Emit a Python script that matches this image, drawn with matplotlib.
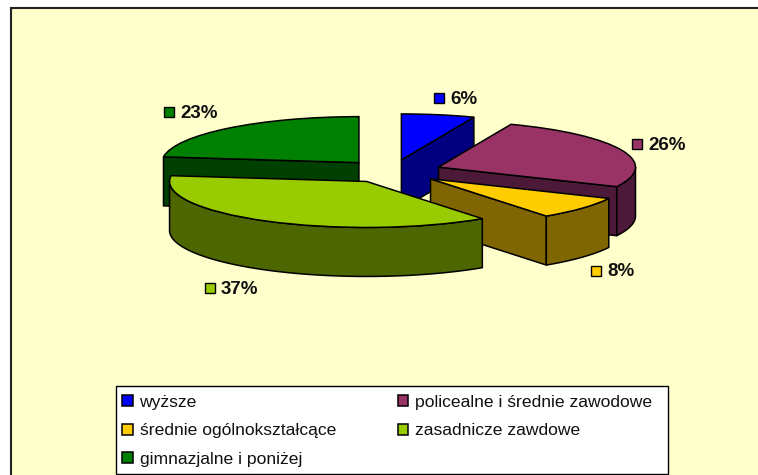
#!/usr/bin/env python
import numpy as np
import matplotlib
matplotlib.use('Agg')
import matplotlib.pyplot as plt
from matplotlib.patches import Polygon, Rectangle

W, H = 758, 475

names = ['wyższe', 'policealne i średnie zawodowe', 'średnie ogólnokształcące',
         'zasadnicze zawdowe', 'gimnazjalne i poniżej']
values = [6, 26, 8, 37, 23]
top_colors = ['#0000FF', '#993366', '#FFCC00', '#99CC00', '#008000']
side_colors = ['#000080', '#4C1A38', '#806600', '#4D6600', '#004000']

# back to front
draw_order = [0, 4, 1, 2, 3]
# pixel position of each label key
key_pos = [(439, 98), (637, 144), (596, 271), (210, 288), (169, 112)]

# pie geometry in pixels, the axes squash the circle
cx, cy = 392.0, 171.4
rx, ry = 197.0, 46.0
depth = 49.0 / ry
explode = 50.0 / rx
LW = 1.1


def figxy(px, py):
    return px / W, 1 - py / H


def side_poly(xs, ys, color, z):
    pts = list(zip(xs, ys)) + list(zip(xs[::-1], ys[::-1] - depth))
    ax.add_patch(Polygon(pts, closed=True, fc=color, ec='black', lw=LW, zorder=z, joinstyle='round'))


fig = plt.figure(figsize=(W / 100, H / 100), dpi=100, facecolor='white')
plt.rcParams['font.family'] = ['Liberation Sans', 'DejaVu Sans']

fig.patches.append(Rectangle(figxy(11, 480), (W + 10) / W, 472 / H, transform=fig.transFigure,
                             fc='#FFFFCC', ec='#222222', lw=1.5, zorder=-1))

ax = fig.add_axes([0, 0, 1, 1])
wedges, _ = ax.pie(values, explode=[explode] * len(values), colors=top_colors, startangle=90,
                   counterclock=False, radius=1, wedgeprops={'edgecolor': 'black', 'linewidth': LW})
ax.set_aspect('auto')
ax.set_xlim(-cx / rx, (W - cx) / rx)
ax.set_ylim((cy - H) / ry, cy / ry)
ax.axis('off')

for rank, i in enumerate(draw_order):
    w = wedges[i]
    z = 10 + rank * 10
    x0, y0 = w.center
    # radial walls, only the ones facing the viewer
    t1, t2 = np.radians(w.theta1), np.radians(w.theta2)
    if np.cos(t1) > 1e-6:
        side_poly(np.array([x0, x0 + np.cos(t1)]), np.array([y0, y0 + np.sin(t1)]), side_colors[i], z)
    if np.cos(t2) < -1e-6:
        side_poly(np.array([x0, x0 + np.cos(t2)]), np.array([y0, y0 + np.sin(t2)]), side_colors[i], z)
    # outer wall, front half only
    t = np.radians(np.linspace(w.theta1, w.theta2, 120))
    t = t[np.sin(t) <= 0]
    if len(t) > 1:
        side_poly(x0 + np.cos(t), y0 + np.sin(t), side_colors[i], z + 1)
    w.set_zorder(z + 2)

for i in range(len(values)):
    kx, ky = key_pos[i]
    ax.plot(*figxy(kx, ky), marker='s', ms=6.8, mfc=top_colors[i], mec='black', mew=1.0,
            transform=fig.transFigure, zorder=100, clip_on=False)
    ax.text(*figxy(kx + 11, ky + 1), '%d%%' % values[i], transform=fig.transFigure, fontsize=13.5,
            fontweight='bold', va='center', ha='left', color='#111111', zorder=100)

# legend box drawn by hand so its size can be exact
ax.add_patch(Rectangle(figxy(115.5, 474), 552.5 / W, 88 / H, transform=fig.transFigure,
                       fc='white', ec='black', lw=1.0, zorder=150, clip_on=False))

# matplotlib fills legend columns first
legend_order = [0, 2, 4, 1, 3]
leg = ax.legend([wedges[i] for i in legend_order], [names[i] for i in legend_order], ncol=2,
                loc='upper left', bbox_to_anchor=figxy(122, 395),
                bbox_transform=fig.transFigure, fontsize=12.6, frameon=False,
                handlelength=0.6, handleheight=0.6, handletextpad=0.4, labelspacing=0.77,
                borderpad=0, borderaxespad=0, columnspacing=3.54)
leg.set_zorder(200)
for t in leg.get_texts():
    t.set_color('#111111')

fig.savefig('out.png', dpi=100)
